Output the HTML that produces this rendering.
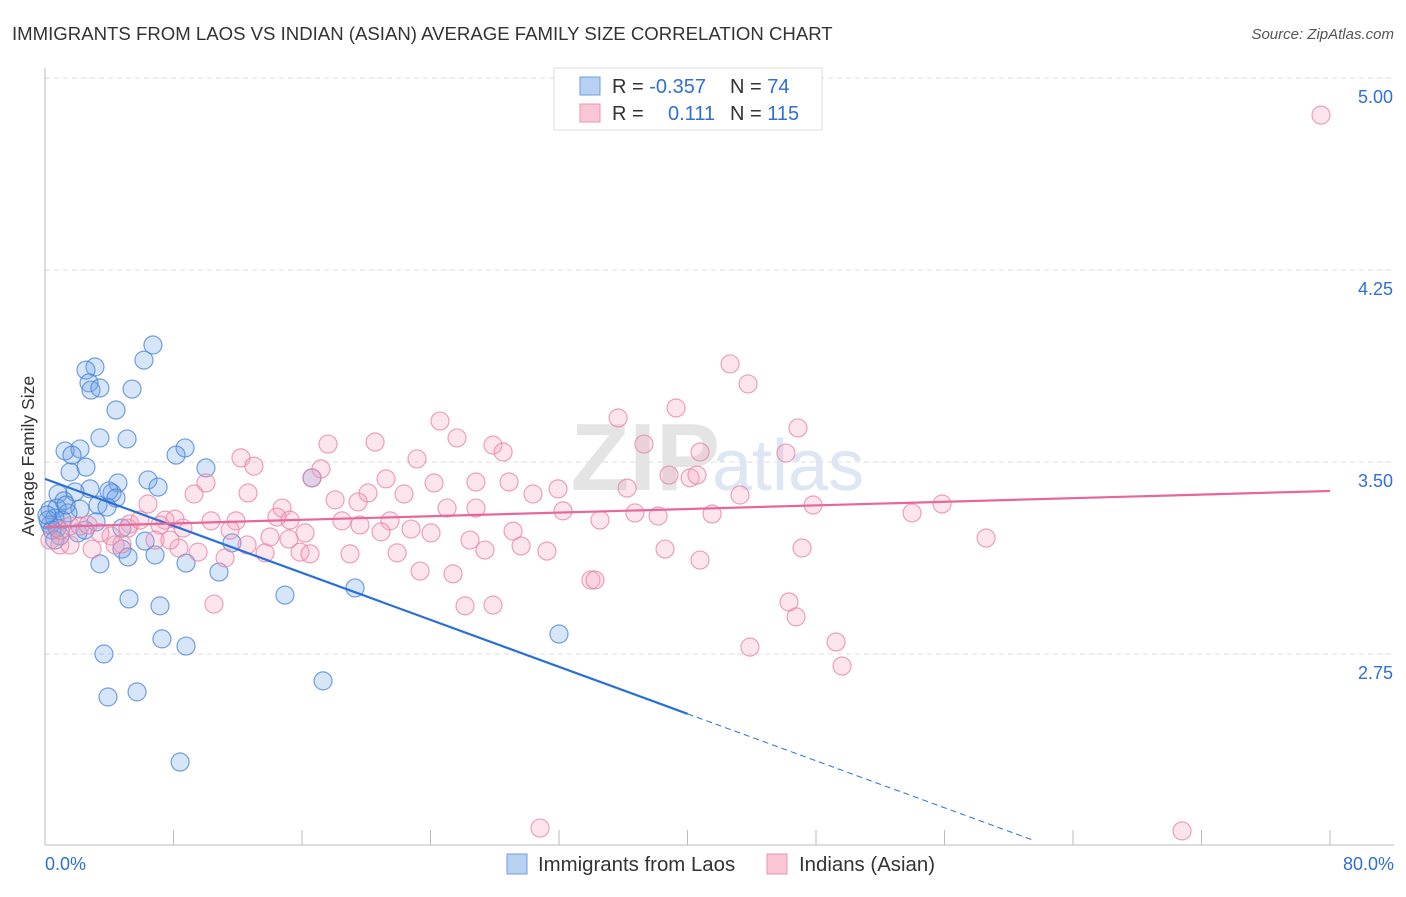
<!DOCTYPE html>
<html><head><meta charset="utf-8"><style>
body{margin:0;background:#fff;font-family:"Liberation Sans",sans-serif}
svg text{font-family:"Liberation Sans",sans-serif}
</style></head><body>
<svg id="chart" width="1406" height="892">
<text x="12" y="40" font-size="18.6" fill="#333">IMMIGRANTS FROM LAOS VS INDIAN (ASIAN) AVERAGE FAMILY SIZE CORRELATION CHART</text>
<text x="1394" y="39" font-size="15" fill="#555" font-style="italic" text-anchor="end">Source: ZipAtlas.com</text>
<g id="grid"></g>
<text x="720" y="490" font-size="96" fill="#e4e4e4" text-anchor="end" font-weight="bold">ZIP</text>
<text x="712" y="490" font-size="72" fill="#dde6f3">atlas</text>
<g id="axes"></g>
<g id="marks"></g>
<g id="lines"></g>
<text transform="translate(34,456) rotate(-90)" font-size="17.5" fill="#333" text-anchor="middle">Average Family Size</text>
<g>
<rect x="554" y="68" width="268" height="62" fill="#fff" stroke="#ddd"/>
<rect x="580" y="77" width="20" height="18" fill="#b8d1f3" stroke="#6c9ee0"/>
<rect x="580" y="104" width="20" height="18" fill="#f9c6d5" stroke="#ec94b0"/>
<text x="612" y="93" font-size="20" fill="#333">R = <tspan fill="#2f6fd6">-0.357</tspan><tspan x="730">N = </tspan><tspan fill="#2f6fd6">74</tspan></text>
<text x="612" y="120" font-size="20" fill="#333">R = <tspan x="668" fill="#2f6fd6">0.111</tspan><tspan x="730">N = </tspan><tspan fill="#2f6fd6">115</tspan></text>
</g>
<g>
<rect x="507" y="854" width="20" height="20" fill="#b8d1f3" stroke="#6c9ee0"/>
<text x="538" y="871" font-size="20.4" fill="#333">Immigrants from Laos</text>
<rect x="767" y="854" width="20" height="20" fill="#f9c6d5" stroke="#ec94b0"/>
<text x="799" y="871" font-size="20.4" fill="#333">Indians (Asian)</text>
</g>
</svg>
<script>
const yTicks=[2.75,3.50,4.25,5.00];
const xTickLabels=["0.0%","80.0%"];
const blueX=[6.72,6.16,3.11,2.55,2.74,2.86,3.42,5.42,4.42,3.42,5.11,8.72,1.25,2.18,1.68,8.16,10.02,2.55,1.56,6.41,4.54,7.04,16.62,2.80,1.87,0.81,4.17,3.98,4.42,1.18,3.30,3.86,0.31,0.75,2.18,1.43,3.18,0.62,1.06,0.31,2.05,0.75,4.79,6.23,11.64,4.79,5.17,6.85,3.42,8.78,10.83,19.30,5.23,14.94,7.16,7.28,8.78,3.67,17.31,5.73,3.92,8.41,32.0,0.19,0.44,0.93,1.31,2.49,0.12,0.62];
const blueY=[3.957,3.898,3.871,3.859,3.809,3.781,3.789,3.785,3.703,3.594,3.590,3.555,3.543,3.551,3.527,3.527,3.477,3.480,3.461,3.430,3.418,3.402,3.438,3.395,3.383,3.375,3.379,3.387,3.359,3.348,3.332,3.324,3.313,3.320,3.316,3.301,3.266,3.281,3.273,3.254,3.223,3.242,3.242,3.191,3.184,3.160,3.129,3.137,3.102,3.105,3.070,3.008,2.965,2.980,2.938,2.809,2.781,2.750,2.645,2.602,2.582,2.328,2.828,3.273,3.234,3.211,3.332,3.234,3.293,3.195];
const pinkX=[79.44,42.65,43.77,39.29,35.68,24.59,46.88,25.65,17.62,20.55,27.89,28.52,37.29,40.78,46.13,12.20,13.01,17.18,23.16,16.62,21.23,10.02,24.22,26.83,28.89,36.24,38.85,40.16,40.59,31.94,30.38,20.11,12.64,9.28,22.35,19.49,6.41,18.06,43.27,55.85,47.82,14.76,25.03,26.83,32.25,36.73,38.17,41.53,53.98,14.44,8.09,7.47,10.34,11.89,18.49,21.48,7.16,5.29,5.17,8.59,22.79,24.03,20.92,29.14,1.56,2.18,14.01,16.19,12.58,15.19,58.59,4.11,6.85,4.79,9.53,18.99,21.92,27.39,29.64,31.25,38.60,47.13,2.93,8.34,15.88,16.50,13.70,11.21,23.35,25.40,33.99,34.24,10.52,26.15,27.89,46.32,46.76,49.25,43.89,49.62,30.82,70.79,0.31,0.93,1.56,0.93,3.42,5.91,2.68,4.36,7.78,11.52,15.25,19.61,34.55,40.78,26.46];
const pinkY=[4.855,3.883,3.805,3.711,3.672,3.660,3.633,3.594,3.570,3.578,3.566,3.539,3.570,3.539,3.535,3.516,3.484,3.473,3.512,3.438,3.434,3.418,3.418,3.422,3.422,3.398,3.449,3.438,3.449,3.395,3.375,3.379,3.379,3.375,3.375,3.344,3.336,3.352,3.371,3.336,3.332,3.320,3.320,3.320,3.309,3.301,3.289,3.297,3.301,3.285,3.277,3.273,3.270,3.270,3.270,3.270,3.254,3.258,3.242,3.242,3.238,3.223,3.227,3.230,3.250,3.250,3.207,3.223,3.176,3.199,3.203,3.211,3.195,3.180,3.148,3.141,3.145,3.156,3.172,3.152,3.160,3.164,3.160,3.164,3.148,3.141,3.145,3.125,3.074,3.063,3.039,3.039,2.945,2.938,2.941,2.953,2.895,2.797,2.777,2.703,2.070,2.059,3.195,3.176,3.176,3.234,3.223,3.273,3.254,3.176,3.195,3.234,3.273,3.254,3.273,3.117,3.195];
const blueTrend=[3.434,-0.02294]; // intercept, slope
const pinkTrend=[3.246,0.00176];
const blueSolidEnd=40.0, blueDashEnd=61.6, pinkEnd=80;

const X=v=>45+v/80*1285;
const Y=v=>462-(v-3.5)*256;
const NS="http://www.w3.org/2000/svg";
function mk(tag,attrs,parent){const e=document.createElementNS(NS,tag);for(const k in attrs)e.setAttribute(k,attrs[k]);parent.appendChild(e);return e;}
const grid=document.getElementById('grid'),axes=document.getElementById('axes'),marks=document.getElementById('marks'),lines=document.getElementById('lines');
yTicks.forEach(t=>{
  const l=mk('line',{x1:45,x2:1394,y1:Y(t),y2:Y(t),stroke:'#ddd','stroke-dasharray':'5,4'},grid);
  
  
  const tx=mk('text',{x:1393,y:Y(t)+25,'font-size':18,fill:'#2f6fd6','text-anchor':'end'},axes);
  tx.textContent=t.toFixed(2);
  
  
});
const xa=mk('line',{x1:45,x2:1394,y1:845,y2:845,stroke:'#bbb'},axes);


const ya=mk('line',{x1:45,x2:45,y1:68,y2:845,stroke:'#bbb'},axes);


for(let i=0;i<=10;i++){
  const t=mk('line',{x1:X(i*8),x2:X(i*8),y1:830,y2:845,stroke:'#bbb'},axes);
  
  
}
[[0,45,'start'],[80,1394,'end']].forEach((d,i)=>{
  const tx=mk('text',{x:d[1],y:870,'font-size':18,fill:'#2f6fd6','text-anchor':d[2]},axes);
  tx.textContent=xTickLabels[i];
  
  
});
blueX.forEach((v,i)=>{
  const c=mk('circle',{cx:X(v),cy:Y(blueY[i]),r:9,fill:'rgba(110,160,230,0.28)',stroke:'rgba(70,130,215,0.75)','stroke-width':1.2},marks);
  
  
});
pinkX.forEach((v,i)=>{
  const c=mk('circle',{cx:X(v),cy:Y(pinkY[i]),r:9,fill:'rgba(245,160,190,0.28)',stroke:'rgba(232,130,165,0.75)','stroke-width':1.2},marks);
  
  
});
const bt=v=>blueTrend[0]+blueTrend[1]*v, pt=v=>pinkTrend[0]+pinkTrend[1]*v;
const b1=mk('line',{x1:X(0),y1:Y(bt(0)),x2:X(blueSolidEnd),y2:Y(bt(blueSolidEnd)),stroke:'#2a6fd8','stroke-width':2.2},lines);


const b2=mk('line',{x1:X(blueSolidEnd),y1:Y(bt(blueSolidEnd)),x2:X(blueDashEnd),y2:Y(bt(blueDashEnd)),stroke:'#2a6fd8','stroke-width':1,'stroke-dasharray':'6,4'},lines);


const p1=mk('line',{x1:X(0),y1:Y(pt(0)),x2:X(pinkEnd),y2:Y(pt(pinkEnd)),stroke:'#e8679a','stroke-width':2.2},lines);


</script>
</body></html>
